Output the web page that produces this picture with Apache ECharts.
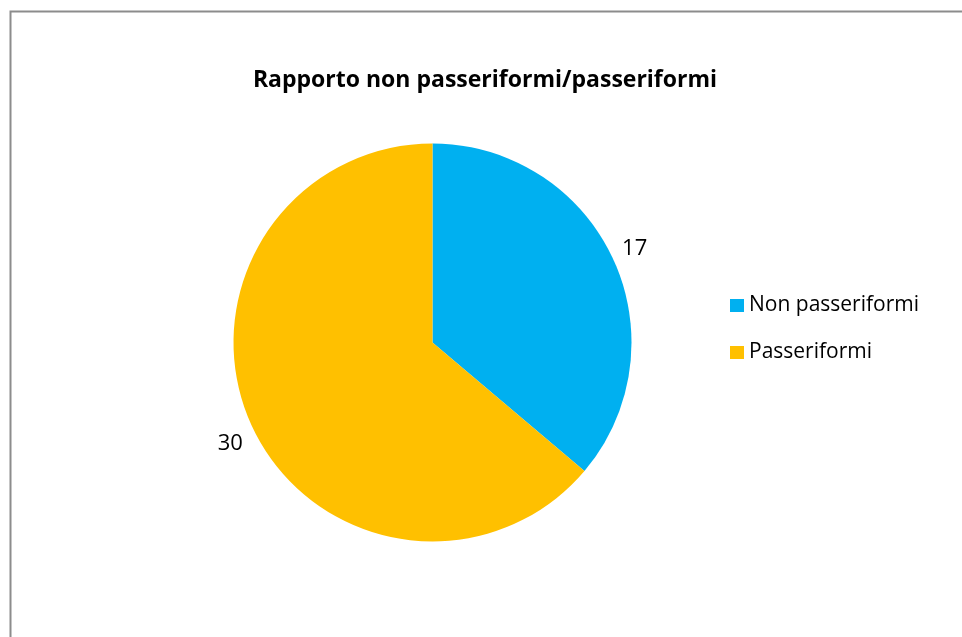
<!DOCTYPE html>
<html>
<head>
<meta charset="utf-8">
<script src="https://cdn.jsdelivr.net/npm/echarts@6/dist/echarts.min.js"></script>
<style>
html,body{margin:0;padding:0;background:#fff;}
#chart{width:962px;height:637px;}
</style>
</head>
<body>
<div id="chart"></div>
<script>
var titleText = 'Rapporto non passeriformi/passeriformi';
var categories = ['Non passeriformi', 'Passeriformi'];
var values = [17, 30];
var colors = ['#00B0F0', '#FFC000'];
var labelShift = [[0, -6], [0, 13]];

var chart = echarts.init(document.getElementById('chart'));
var data = categories.map(function (c, i) {
  return { name: c, value: values[i], itemStyle: { color: colors[i] }, label: { offset: labelShift[i] } };
});
chart.setOption({
  animation: false,
  backgroundColor: '#fff',
  graphic: [{
    type: 'rect',
    shape: { x: 10.5, y: 11.5, width: 1000, height: 700 },
    style: { fill: 'none', stroke: '#8c8c8c', lineWidth: 2 },
    silent: true
  }],
  title: {
    text: titleText,
    left: 480,
    textAlign: 'center',
    top: 64,
    textStyle: { fontFamily: 'Open Sans', fontWeight: 'bold', fontSize: 23, color: '#000' }
  },
  legend: {
    orient: 'vertical',
    left: 725,
    top: 290,
    itemWidth: 14,
    itemHeight: 13,
    itemGap: 26,
    icon: 'rect',
    data: categories,
    textStyle: { fontFamily: 'Open Sans', fontSize: 21, color: '#000' }
  },
  series: [{
    type: 'pie',
    center: [432.5, 342.5],
    radius: [0, 199],
    startAngle: 90,
    clockwise: true,
    data: data,
    label: {
      show: true,
      position: 'outside',
      formatter: '{c}',
      fontFamily: 'Open Sans',
      fontSize: 22,
      color: '#000',
      distanceToLabelLine: 0
    },
    labelLine: { show: false, length: 10, length2: 0 },
    emphasis: { disabled: true }
  }]
});
</script>
</body>
</html>
